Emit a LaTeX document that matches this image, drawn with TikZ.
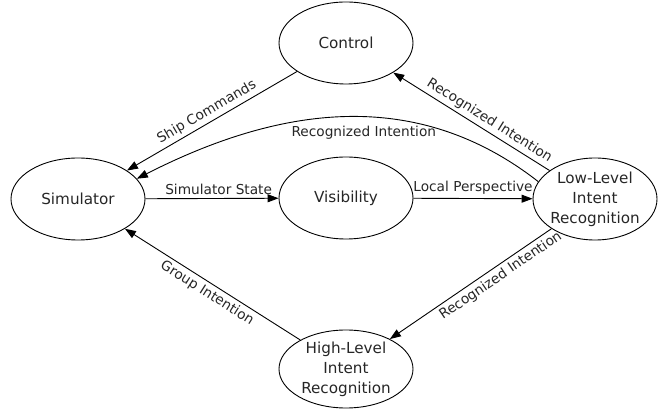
\documentclass[tikz,border=0pt]{standalone}
\usepackage{fontspec}
\setmainfont{DejaVu Sans}
\usetikzlibrary{shapes, arrows.meta}

\begin{document}
\begin{tikzpicture}[x=1pt, y=1pt,
        proc/.style={ellipse, draw, line width=0.9pt, inner sep=-12pt,
            minimum width=134pt, minimum height=82pt, align=center,
            text=black!85, font=\fontsize{15.2}{20}\selectfont},
        flow/.style={-{Triangle[length=11pt, width=8pt]}, line width=0.9pt},
        lbl/.style={text=black!85, font=\fontsize{13.7}{16}\selectfont}]
        \useasboundingbox (0, 0) rectangle (658, 409);

        \node[proc] at (78, 210) (sim) {Simulator};
        \node[proc] at (346, 366) (ctrl) {Control};
        \node[proc] at (346, 211) (vis) {Visibility};
        \node[proc, minimum width=124pt] at (595, 210) (low) {Low-Level\\Intent\\Recognition};
        \node[proc, minimum height=78pt] at (346, 40) (high) {High-Level\\Intent\\Recognition};

        \draw[flow] (ctrl) to node[lbl, sloped, above] {Ship Commands} (sim);
        \draw[flow] (low.163) to[out=142, in=27] node[lbl, below=5pt, pos=0.45] {Recognized Intention} (sim.19);
        \draw[flow] (low) to node[lbl, sloped, above, pos=0.42] {Recognized Intention} (ctrl);
        \draw[flow] (sim) to node[lbl, above, pos=0.55] {Simulator State} (vis);
        \draw[flow] (vis) to node[lbl, above] {Local Perspective} (low);
        \draw[flow] (low) to node[lbl, sloped, below, pos=0.35] {Recognized Intention} (high);
        \draw[flow] (high) to node[lbl, sloped, below] {Group Intention} (sim);
    \end{tikzpicture}
\end{document}
